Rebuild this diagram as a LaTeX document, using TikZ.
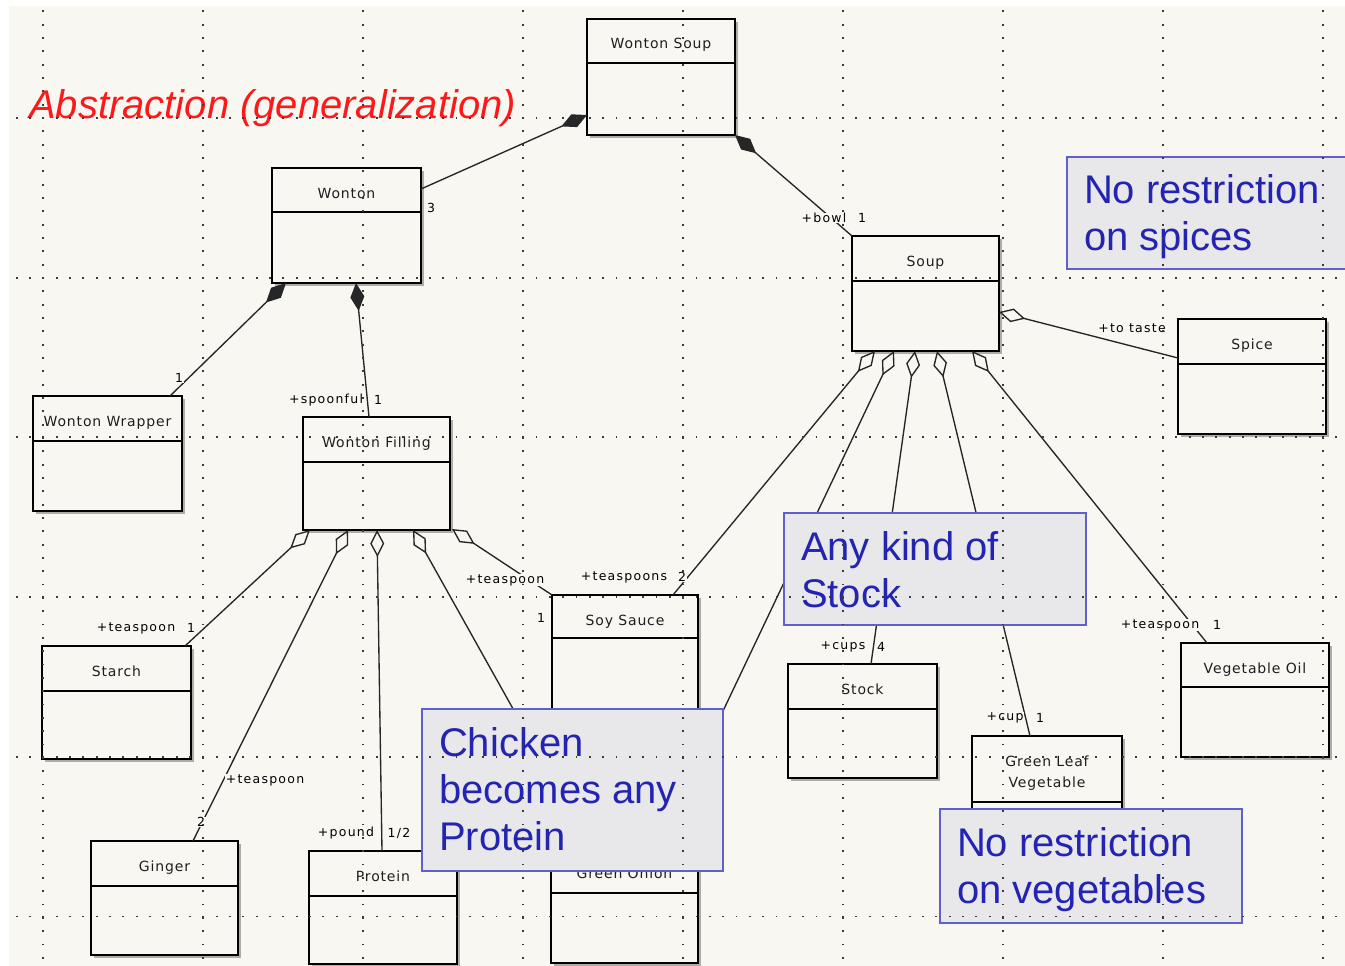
\documentclass[tikz,border=0pt]{standalone}
\usepackage{fontspec}
\setmainfont{Liberation Sans}
\newfontfamily\clsfont[LetterSpace=6]{DejaVu Sans}
\newfontfamily\rolefont[LetterSpace=10]{DejaVu Sans}
\usetikzlibrary{arrows.meta,calc,shadows}

\definecolor{paper}{RGB}{248,247,242}
\definecolor{notefill}{RGB}{232,232,234}
\definecolor{noteedge}{RGB}{96,96,204}
\definecolor{noteink}{RGB}{36,36,178}
\definecolor{gridink}{RGB}{60,60,60}
\definecolor{titlered}{RGB}{255,24,24}
\definecolor{classink}{RGB}{30,30,30}

\tikzset{
  cls/.style 2 args={draw=black, line width=1.9pt, fill=paper, inner sep=0pt, outer sep=0pt,
    anchor=north west, minimum width=#1pt, text height=30pt, text depth=#2pt,
    text=classink, font=\clsfont\fontsize{14}{21}\selectfont,
    drop shadow={shadow xshift=3pt, shadow yshift=-3pt, opacity=0.3, fill=black}},
  divider/.style={draw=black, line width=1.7pt},
  link/.style={draw=black!85, line width=1.35pt},
  compo/.style={link, arrows={Diamond[length=28pt,width=14pt]-}},
  aggr/.style={link, arrows={Diamond[length=27pt,width=14pt,fill=paper]-}},
  role/.style={font=\rolefont\fontsize{12.5}{14}\selectfont, fill=paper, inner sep=0.6pt, text=black},
  note/.style 2 args={draw=noteedge, line width=1.5pt, fill=notefill, text=noteink,
    inner xsep=17pt, inner ysep=0pt, outer sep=0pt, anchor=north west,
    text height=#1pt, text depth=#2pt, font=\fontsize{40}{47}\selectfont},
  gridline/.style={draw=gridink, line width=1.9pt, dash pattern=on 1.9pt off 11.43pt},
}

\begin{document}
\begin{tikzpicture}[x=1pt,y=-1pt]
\useasboundingbox (0,0) rectangle (1345,966);
\fill[white] (0,0) rectangle (1345,966);
\fill[paper] (9,6) rectangle (1345,966);

% heading
\node[anchor=base west, inner sep=0pt, text=titlered, font=\itshape\fontsize{40}{48}\selectfont]
  (title) at (29,118) {Abstraction (generalization)};

% classes
\node[cls={148}{86}] (wsoup)   at (587,19)  {Wonton Soup};
\node[cls={149}{85}] (wonton)  at (272,168) {Wonton};
\node[cls={147}{85}] (soup)    at (852,236) {Soup};
\node[cls={148}{85}] (spice)   at (1178,319) {Spice};
\node[cls={149}{85}] (wrapper) at (33,396)  {Wonton Wrapper};
\node[cls={147}{83}] (filling) at (303,417) {Wonton Filling};
\node[cls={149}{83}] (starch)  at (42,646)  {Starch};
\node[cls={147}{84}] (ginger)  at (91,841)  {Ginger};
\node[cls={148}{83}] (protein) at (309,851) {Protein};
\node[cls={147}{85}, text height=28pt] (onion) at (551,850) {Green Onion};
\node[cls={146}{95}] (soy)     at (552,595) {Soy Sauce};
\node[cls={149}{84}] (stock)   at (788,664) {Stock};
\node[cls={150}{85}] (gleaf)   at (972,736)
  {\begin{tabular}[t]{@{}c@{}}Green Leaf\\Vegetable\end{tabular}};
\node[cls={148}{84}] (oil)     at (1181,643) {Vegetable Oil};

% compartment lines
\foreach \n/\d in {wsoup/44,wonton/44,soup/45,spice/45,wrapper/45,filling/45,starch/45,
                   ginger/45,protein/45,soy/43,onion/43,stock/45,gleaf/66,oil/44}
  \draw[divider] ($(\n.north west)+(0,\d)$) -- ($(\n.north east)+(0,\d)$);

% composition
\draw[compo] ($(wsoup.south west)+(0,-20)$) -- ($(wonton.north east)+(0,21)$);
\draw[compo] (wsoup.south east) -- (soup.north west);
\draw[compo] ($(wonton.south west)+(14,0)$) -- ($(wrapper.north west)+(137,0)$);
\draw[compo] ($(wonton.south west)+(84,0)$) -- ($(filling.north west)+(66,0)$);

% aggregation from Soup
\draw[aggr] ($(soup.north east)+(0,76)$) -- ($(spice.north west)+(0,39)$);
\draw[aggr] ($(soup.south west)+(23,0)$) -- ($(soy.north west)+(121,0)$);
\draw[aggr] ($(soup.south west)+(42,0)$) -- ($(onion.north west)+(106,0)$);
\draw[aggr] ($(soup.south west)+(63,0)$) -- ($(stock.north west)+(83,0)$);
\draw[aggr] ($(soup.south west)+(85,0)$) -- ($(gleaf.north west)+(58,0)$);
\draw[aggr] ($(soup.south west)+(120,0)$) -- ($(oil.north west)+(26,0)$);

% aggregation from Wonton Filling
\draw[aggr] ($(filling.south west)+(7,0)$) -- ($(starch.north west)+(143,0)$);
\draw[aggr] ($(filling.south west)+(45,0)$) -- ($(ginger.north west)+(102,0)$);
\draw[aggr] ($(filling.south west)+(74,0)$) -- ($(protein.north west)+(73,0)$);
\draw[aggr] ($(filling.south west)+(110,0)$) -- ($(onion.north west)+(41,0)$);
\draw[aggr] ($(filling.south east)+(2,-1)$) -- (soy.north west);

% role names and multiplicities
\node[role] (m-wonton) at (431,208) {3};
\node[role] (r-bowl) at (824,218) {+bowl};
\node[role] (m-bowl) at (862,218) {1};
\node[role] (r-taste) at (1132,328) {+to taste};
\node[role] (m-wrap) at (179,378) {1};
\node[role] (r-spoon) at (326,400) {+spoonful};
\node[role] (m-spoon) at (378,400) {1};
\node[role] (r-starch) at (136,628) {+teaspoon};
\node[role] (m-starch) at (191,628) {1};
\node[role] (r-ginger) at (265,780) {+teaspoon};
\node[role] (m-ginger) at (201,822) {2};
\node[role] (r-pound) at (346,833) {+pound};
\node[role] (m-pound) at (399,833) {1/2};
\node[role] (r-soyf) at (505,580) {+teaspoon};
\node[role] (m-soyf) at (541,618) {1};
\node[role] (r-soys) at (624,577) {+teaspoons};
\node[role] (m-soys) at (682,577) {2};
\node[role] (r-cups) at (843,647) {+cups};
\node[role] (m-cups) at (881,647) {4};
\node[role] (r-cup) at (1005,718) {+cup};
\node[role] (m-cup) at (1040,718) {1};
\node[role] (r-oil) at (1160,625) {+teaspoon};
\node[role] (m-oil) at (1217,625) {1};

% notes
\node[note={46}{66}] (n-spice) at (1067,157)
  {\begin{tabular}[t]{@{}p{245pt}@{}}No restriction\\on spices\end{tabular}};
\node[note={47}{65}] (n-stock) at (784,513)
  {\begin{tabular}[t]{@{}p{268pt}@{}}Any kind of\\Stock\end{tabular}};
\node[note={47}{115}] (n-protein) at (422,709)
  {\begin{tabular}[t]{@{}p{267pt}@{}}Chicken\\becomes any\\Protein\end{tabular}};
\node[note={47}{67}] (n-veg) at (940,809)
  {\begin{tabular}[t]{@{}p{268pt}@{}}No restriction\\on vegetables\end{tabular}};

% dotted grid
\foreach \k in {0,...,8}
  \draw[gridline] ({43.33+160*\k},10.4) -- ({43.33+160*\k},966);
\foreach \k in {0,...,5}
  \draw[gridline] (15.7,{118+159.7*\k}) -- (1345,{118+159.7*\k});
\end{tikzpicture}
\end{document}
